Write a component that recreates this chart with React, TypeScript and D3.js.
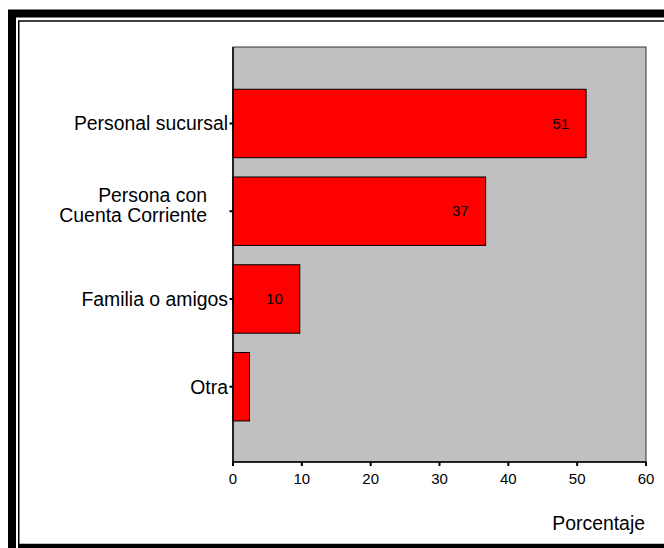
import React from "react";
import * as d3 from "d3";

// Share of respondents by source (percent)
const categories: string[][] = [
  ["Personal sucursal"],
  ["Persona con", "Cuenta Corriente"],
  ["Familia o amigos"],
  ["Otra"],
];
const values: number[] = [51.3, 36.7, 9.7, 2.4];
const xTicks: number[] = [0, 10, 20, 30, 40, 50, 60];
const xTitle = "Porcentaje";

const W = 664;
const H = 548;
const plot = { left: 233, right: 646, top: 47, bottom: 462 };
const FONT = "'Liberation Sans', Arial, Helvetica, sans-serif";

export default function App() {
  const keys = categories.map((c) => c.join(" "));
  const x = d3.scaleLinear().domain([0, 60]).range([plot.left, plot.right]);
  const y = d3
    .scaleBand<string>()
    .domain(keys)
    .range([79.6, 430.6])
    .paddingInner(0.22)
    .paddingOuter(0.11);

  return (
    <svg
      width={W}
      height={H}
      style={{ position: "absolute", left: 0, top: 0, background: "#fff" }}
      fontFamily={FONT}
    >
      {/* double frame */}
      <rect x={12} y={13.5} width={W + 20} height={H + 20} fill="none" stroke="#000" strokeWidth={8} />
      <rect x={18.75} y={21} width={W + 20} height={523.5} fill="none" stroke="#000" strokeWidth={1.5} />
      <rect x={18} y={544} width={W} height={4} fill="#000" />

      {/* plot background */}
      <rect
        x={plot.left}
        y={plot.top}
        width={plot.right - plot.left}
        height={plot.bottom - plot.top}
        fill="#c0c0c0"
        stroke="#333"
        strokeWidth={1}
      />

      {/* bars */}
      {values.map((v, i) => (
        <rect
          key={keys[i]}
          x={x(0)}
          y={y(keys[i])!}
          width={x(v) - x(0)}
          height={y.bandwidth()}
          fill="#ff0000"
          stroke="#000"
          strokeWidth={1}
        />
      ))}

      {/* value labels */}
      {values.map((v, i) =>
        v >= 5 ? (
          <text
            key={"v" + i}
            x={x(v) - 17}
            y={y(keys[i])! + y.bandwidth() / 2}
            dy="0.35em"
            textAnchor="end"
            fontSize={15}
            fill="#000"
          >
            {Math.round(v)}
          </text>
        ) : null
      )}

      {/* axes */}
      <line x1={plot.left} x2={plot.left} y1={plot.top} y2={plot.bottom + 1} stroke="#000" strokeWidth={1.5} />
      <line x1={plot.left - 0.75} x2={plot.right + 0.5} y1={plot.bottom} y2={plot.bottom} stroke="#000" strokeWidth={1.5} />

      {/* category ticks and labels */}
      {categories.map((lines, i) => {
        const cy = y(keys[i])! + y.bandwidth() / 2;
        const lh = 20;
        const y0 = cy - ((lines.length - 1) * lh) / 2 - (lines.length > 1 ? 6 : 0);
        return (
          <g key={"c" + i}>
            <line x1={plot.left - 3.5} x2={plot.left} y1={cy} y2={cy} stroke="#000" strokeWidth={2} />
            {lines.map((t, j) => (
              <text
                key={j}
                x={lines.length > 1 ? 207 : 228}
                y={y0 + j * lh}
                dy="0.35em"
                textAnchor="end"
                fontSize={19.4}
                fill="#000"
              >
                {t}
              </text>
            ))}
          </g>
        );
      })}

      {/* x ticks */}
      {xTicks.map((t) => (
        <g key={"t" + t}>
          <line x1={x(t)} x2={x(t)} y1={plot.bottom} y2={plot.bottom + 4} stroke="#000" strokeWidth={2} />
          <text x={x(t)} y={483.5} textAnchor="middle" fontSize={15} fill="#000">
            {t}
          </text>
        </g>
      ))}

      <text x={645} y={530} textAnchor="end" fontSize={19.4} fill="#000">
        {xTitle}
      </text>
    </svg>
  );
}
